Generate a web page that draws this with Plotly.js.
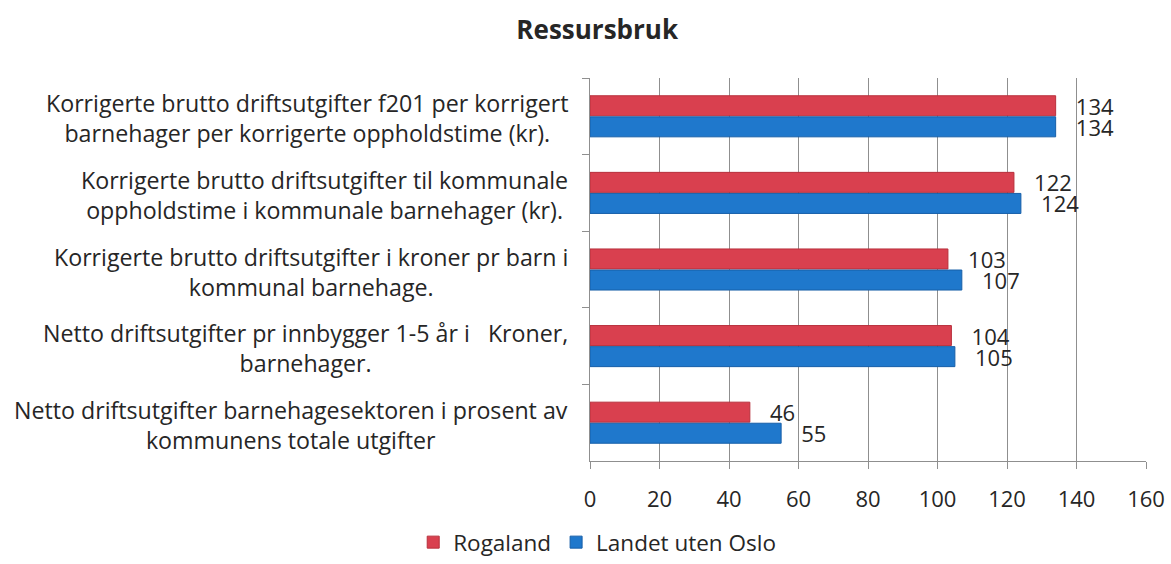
<!DOCTYPE html>
<html>
<head>
<meta charset="utf-8">
<script src="https://cdn.plot.ly/plotly-3.0.1.min.js"></script>
<style>html,body{margin:0;padding:0;background:#fff;}#chart{width:1171px;height:564px;}</style>
</head>
<body>
<div id="chart"></div>
<script>
const categories = [
  "Korrigerte brutto driftsutgifter f201 per korrigert<br>barnehager per korrigerte oppholdstime (kr).",
  "Korrigerte brutto driftsutgifter til kommunale<br>oppholdstime i kommunale barnehager (kr).",
  "Korrigerte brutto driftsutgifter i kroner pr barn i<br>kommunal barnehage.",
  "Netto driftsutgifter pr innbygger 1-5 år i   Kroner,<br>barnehager.",
  "Netto driftsutgifter barnehagesektoren i prosent av<br>kommunens totale utgifter"
];
const rogaland = [134, 122, 103, 104, 46];
const landetUtenOslo = [134, 124, 107, 105, 55];
const seriesNames = ["Rogaland", "Landet uten Oslo"];
const xTicks = [0, 20, 40, 60, 80, 100, 120, 140, 160];

const FONT = "'Open Sans', Lato, sans-serif";
const TXT = "#262626";
const traces = [
  {
    type: "bar", orientation: "h", name: seriesNames[0],
    y: categories, x: rogaland,
    marker: {color: "#d9404f", line: {color: "#b8303c", width: 1}},
    texttemplate: "   %{x}", textposition: "outside", constraintext: "none",
    textfont: {family: FONT, size: 22, color: TXT}, cliponaxis: false
  },
  {
    type: "bar", orientation: "h", name: seriesNames[1],
    y: categories, x: landetUtenOslo,
    marker: {color: "#1f78cc", line: {color: "#175fa8", width: 1}},
    texttemplate: "   %{x}", textposition: "outside", constraintext: "none",
    textfont: {family: FONT, size: 22, color: TXT}, cliponaxis: false
  }
];

const annotations = categories.map(c => ({
  text: c, xref: "paper", yref: "y", x: 0, y: c,
  xanchor: "right", yanchor: "middle", align: "center",
  xshift: -20, yshift: -2, showarrow: false,
  font: {family: FONT, size: 23.2, color: TXT}
}));

const layout = {
  width: 1171, height: 564,
  paper_bgcolor: "#fff", plot_bgcolor: "#fff",
  margin: {l: 590, r: 25, t: 78, b: 103},
  font: {family: FONT, size: 22, color: TXT},
  title: {text: "<b>Ressursbruk</b>", xref: "container", x: 0.51, xanchor: "center",
          yref: "container", y: 0.947, yanchor: "middle",
          font: {family: FONT, size: 26, color: TXT}},
  barmode: "group", bargap: 0.45, bargroupgap: 0.05,
  xaxis: {
    range: [0, 160], tickvals: xTicks, ticktext: xTicks.map(String),
    showgrid: true, gridcolor: "#8f8f8f", gridwidth: 1,
    showline: true, linecolor: "#8f8f8f", linewidth: 1,
    ticks: "outside", ticklen: 7, tickcolor: "#8f8f8f",
    zeroline: false, fixedrange: true,
    tickfont: {family: FONT, size: 22, color: TXT}, ticklabelstandoff: 12
  },
  yaxis: {
    type: "category", autorange: "reversed",
    showline: true, linecolor: "#8f8f8f", linewidth: 1,
    ticks: "outside", ticklen: 7, tickcolor: "#8f8f8f", tickson: "boundaries",
    showgrid: false, fixedrange: true, showticklabels: false
  },
  annotations: annotations,
  legend: {orientation: "h", xref: "container", x: 0.51, xanchor: "center",
           yref: "container", y: 0, yanchor: "bottom",
           font: {family: FONT, size: 22.5, color: TXT}, traceorder: "normal",
           itemwidth: 30},
  showlegend: true
};

Plotly.newPlot("chart", traces, layout, {displayModeBar: false, staticPlot: true});
</script>
</body>
</html>
